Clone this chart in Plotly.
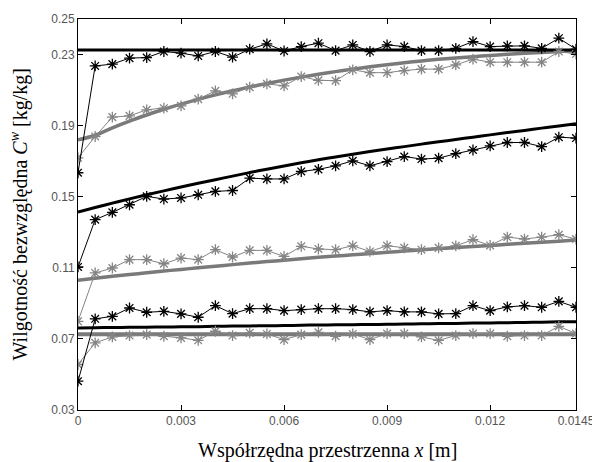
import numpy as np
import plotly.graph_objects as go

# x positions of measurement / model points [m]
x_vals = [i * 0.0005 for i in range(30)]

# Model (thick) curves
model_top_black = [0.2325] * 30
model_top_gray = [0.182, 0.1846, 0.1888, 0.1926, 0.196, 0.1992, 0.2021, 0.2048, 0.2073, 0.2096,
                  0.2117, 0.2137, 0.2156, 0.2173, 0.2189, 0.2204, 0.2218, 0.2231, 0.2243, 0.2254,
                  0.2264, 0.2273, 0.2281, 0.2288, 0.2295, 0.2301, 0.2307, 0.2312, 0.2317, 0.2322]
model_mid_black = [0.1414, 0.1439, 0.1464, 0.1488, 0.1511, 0.1533, 0.1555, 0.1576, 0.1596, 0.1616,
                   0.1636, 0.1655, 0.1673, 0.1691, 0.1708, 0.1724, 0.1739, 0.1754, 0.1768, 0.1782,
                   0.1796, 0.1809, 0.1822, 0.1835, 0.1848, 0.1861, 0.1873, 0.1886, 0.1898, 0.191]
model_mid_gray = [0.1030, 0.1041, 0.1052, 0.1062, 0.1072, 0.1082, 0.1091, 0.1100, 0.1109, 0.1118,
                  0.1127, 0.1135, 0.1143, 0.1151, 0.1159, 0.1166, 0.1173, 0.1180, 0.1187, 0.1194,
                  0.1201, 0.1208, 0.1214, 0.1220, 0.1226, 0.1232, 0.1238, 0.1244, 0.1250, 0.1256]
model_low_black = [0.0762, 0.0763, 0.0764, 0.0765, 0.0766, 0.0767, 0.0768, 0.0769, 0.0771, 0.0772,
                   0.0773, 0.0774, 0.0775, 0.0777, 0.0778, 0.0779, 0.0780, 0.0781, 0.0782, 0.0784,
                   0.0785, 0.0786, 0.0787, 0.0789, 0.0790, 0.0791, 0.0793, 0.0794, 0.0796, 0.0797]
model_low_gray = [0.0726] * 30

# Measured (star) series
meas_top_black = [0.1635, 0.2236, 0.2246, 0.228, 0.2283, 0.2317, 0.2308, 0.2292, 0.2317, 0.2285,
                  0.233, 0.236, 0.232, 0.2345, 0.2364, 0.2322, 0.2354, 0.2317, 0.2354, 0.2345,
                  0.2322, 0.2322, 0.2335, 0.2373, 0.2345, 0.2349, 0.2349, 0.2335, 0.2392, 0.233]
meas_top_gray = [0.1719, 0.1839, 0.1948, 0.1955, 0.1989, 0.1998, 0.2011, 0.2049, 0.2096, 0.2079,
                 0.2116, 0.2135, 0.2124, 0.2176, 0.2155, 0.2153, 0.2214, 0.2198, 0.2198, 0.221,
                 0.2218, 0.2218, 0.2242, 0.2274, 0.2257, 0.2257, 0.2257, 0.2257, 0.2317, 0.2303]
meas_mid_black = [0.1105, 0.1371, 0.1412, 0.1455, 0.1502, 0.1487, 0.1493, 0.1511, 0.153, 0.1535,
                  0.1605, 0.16, 0.16, 0.1642, 0.1654, 0.1674, 0.1702, 0.1674, 0.1698, 0.1726,
                  0.1712, 0.1717, 0.1742, 0.1763, 0.1786, 0.1805, 0.1805, 0.1782, 0.1835, 0.183]
meas_mid_gray = [0.0799, 0.1071, 0.1099, 0.1146, 0.1146, 0.1123, 0.1155, 0.1146, 0.1202, 0.1161,
                 0.1198, 0.1198, 0.1164, 0.1221, 0.1206, 0.1202, 0.1224, 0.1192, 0.1224, 0.1212,
                 0.1202, 0.1212, 0.1224, 0.1258, 0.1226, 0.1273, 0.1262, 0.1273, 0.1286, 0.1262]
meas_low_black = [0.0462, 0.0813, 0.0827, 0.0874, 0.085, 0.0855, 0.0841, 0.0822, 0.0887, 0.0842,
                  0.087, 0.087, 0.0859, 0.0865, 0.087, 0.087, 0.0865, 0.0852, 0.0859, 0.0852,
                  0.0852, 0.0841, 0.0842, 0.0887, 0.0859, 0.088, 0.0887, 0.0878, 0.0911, 0.0878]
meas_low_gray = [0.0556, 0.0678, 0.0711, 0.0719, 0.0724, 0.0715, 0.0706, 0.0692, 0.0743, 0.0719,
                 0.0734, 0.0728, 0.0696, 0.0724, 0.0737, 0.0715, 0.0728, 0.0696, 0.073, 0.073,
                 0.0711, 0.0692, 0.0719, 0.073, 0.073, 0.0715, 0.0719, 0.0719, 0.0771, 0.073]

x_ticks = [0, 0.003, 0.006, 0.009, 0.012, 0.0145]
x_tick_labels = ["0", "0.003", "0.006", "0.009", "0.012", "0.0145"]
y_ticks = [0.03, 0.07, 0.11, 0.15, 0.19, 0.23, 0.25]
y_tick_labels = ["0.03", "0.07", "0.11", "0.15", "0.19", "0.23", "0.25"]

BLACK = "#000000"
GRAY = "#7a7a7a"
GRAY_MEAS = "#858585"
SERIF = "Liberation Serif"

fig = go.Figure()

# thick model lines
for ys, col, w in [(model_top_gray, GRAY, 3.5), (model_mid_gray, GRAY, 3.5), (model_low_gray, GRAY, 4),
                   (model_top_black, BLACK, 3), (model_mid_black, BLACK, 3), (model_low_black, BLACK, 3)]:
    fig.add_trace(go.Scatter(x=x_vals, y=ys, mode="lines", line=dict(color=col, width=w, shape="spline"),
                             showlegend=False, hoverinfo="skip"))

# measured star series
for ys, col in [(meas_top_gray, GRAY_MEAS), (meas_mid_gray, GRAY_MEAS), (meas_low_gray, GRAY_MEAS),
                (meas_top_black, BLACK), (meas_mid_black, BLACK), (meas_low_black, BLACK)]:
    fig.add_trace(go.Scatter(x=x_vals, y=ys, mode="lines+markers",
                             line=dict(color=col, width=1),
                             marker=dict(symbol="asterisk-open", size=9,
                                         line=dict(color=col, width=1.3)),
                             showlegend=False))

axis_common = dict(showline=True, linecolor="black", linewidth=1, mirror="ticks",
                   ticks="inside", ticklen=5, tickcolor="black", showgrid=False, automargin=False,
                   zeroline=False, tickfont=dict(family="Liberation Sans", size=12, color="#555555"))

fig.update_xaxes(range=[0, 0.0145], tickvals=x_ticks, ticktext=x_tick_labels, **axis_common)
fig.update_yaxes(range=[0.03, 0.25], tickvals=y_ticks, ticktext=y_tick_labels, **axis_common)

fig.add_annotation(text="Współrzędna przestrzenna <i>x</i> [m]", xref="paper", yref="paper",
                   x=0.5, y=0, yshift=-40, xanchor="center", yanchor="middle", showarrow=False,
                   font=dict(family=SERIF, size=20, color="black"))
fig.add_annotation(text="Wilgotność bezwzględna <i>C</i><sup><i>w</i></sup> [kg/kg]", xref="paper", yref="paper",
                   x=0, y=0.5, xshift=-59, xanchor="center", yanchor="middle", textangle=-90, showarrow=False,
                   font=dict(family=SERIF, size=20, color="black"))

fig.update_layout(width=592, height=454, plot_bgcolor="white", paper_bgcolor="white",
                  margin=dict(l=70, r=24, t=11, b=52))

fig.write_html("out.html")
